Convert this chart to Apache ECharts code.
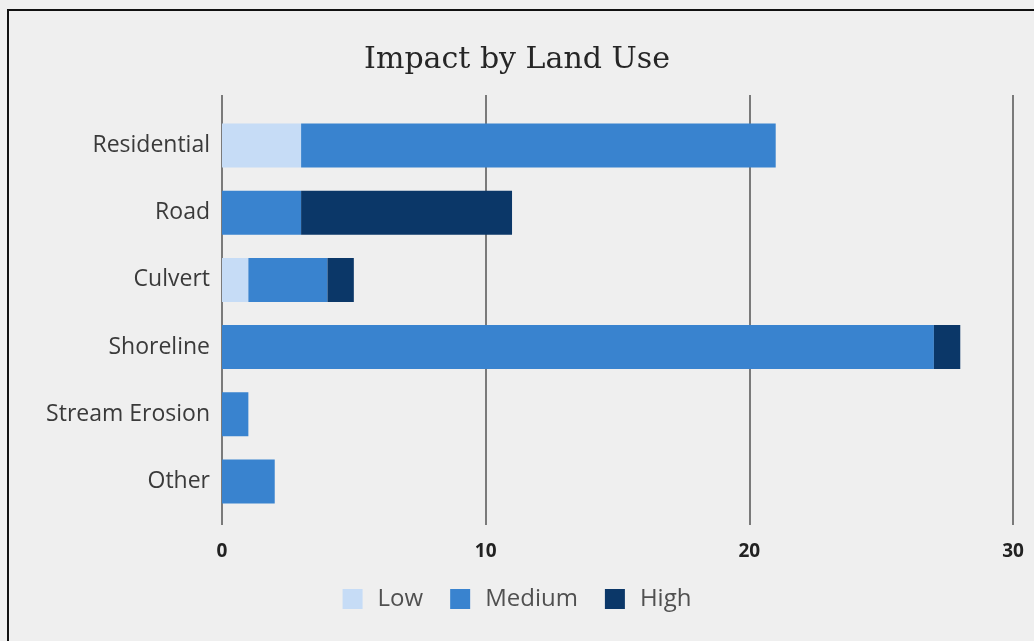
<!DOCTYPE html>
<html style="height: 100%">

<head>
    <meta charset="utf-8">
    <script src="https://cdn.jsdelivr.net/npm/echarts@6/dist/echarts.min.js"></script>
</head>

<body style="height: 100%; margin: 0; background-color: #efefef; overflow: hidden">
    <div id="frame" style="position: absolute; left: 7px; top: 9px; width: 1100px; height: 700px; border: 2px solid #111;"></div>
    <div id="container" style="position: absolute; left: 0; top: 0; width: 1034px; height: 641px"></div>
    <script type="text/javascript">
        // data
        var categories = ['Residential', 'Road', 'Culvert', 'Shoreline', 'Stream Erosion', 'Other'];
        var lowValues = [3, 0, 1, 0, 0, 0];
        var mediumValues = [18, 3, 3, 27, 1, 2];
        var highValues = [0, 8, 1, 1, 0, 0];
        var xTicks = [0, 10, 20, 30];

        var dom = document.getElementById("container");
        var myChart = echarts.init(dom);

        var labelFont = '"Open Sans", sans-serif';

        var option = {
            backgroundColor: 'transparent',
            title: {
                text: 'Impact by Land Use',
                left: 'center',
                top: 40,
                textStyle: {
                    fontFamily: '"DejaVu Serif", serif',
                    fontSize: 30,
                    fontWeight: 'normal',
                    color: '#262626'
                }
            },
            color: ['#c6dcf6', '#3983cf', '#0b3768'],
            legend: {
                bottom: 25,
                left: 'center',
                itemWidth: 20,
                itemHeight: 20,
                itemGap: 27,
                icon: 'rect',
                textStyle: {
                    fontFamily: labelFont,
                    fontSize: 24,
                    color: '#505050',
                    padding: [0, 0, 0, 10]
                },
                data: ['Low', 'Medium', 'High']
            },
            grid: [
                // grid lines only
                { left: 222, right: 21, top: 95, bottom: 116 },
                // bars
                { left: 222, right: 21, top: 112, bottom: 126 }
            ],
            xAxis: [{
                gridIndex: 0,
                type: 'value',
                min: xTicks[0],
                max: xTicks[xTicks.length - 1],
                interval: 10,
                axisLine: { show: false },
                axisTick: { show: false },
                axisLabel: {
                    margin: 17,
                    fontFamily: labelFont,
                    fontSize: 19,
                    fontWeight: 'bold',
                    color: '#222'
                },
                splitLine: {
                    show: true,
                    lineStyle: { color: '#7a7a7a', width: 2 }
                }
            }, {
                gridIndex: 1,
                type: 'value',
                min: xTicks[0],
                max: xTicks[xTicks.length - 1],
                interval: 10,
                show: false
            }],
            yAxis: [{
                gridIndex: 0,
                type: 'value',
                show: false
            }, {
                gridIndex: 1,
                type: 'category',
                inverse: true,
                data: categories,
                axisLine: { show: false },
                axisTick: { show: false },
                axisLabel: {
                    margin: 12,
                    fontFamily: labelFont,
                    fontSize: 23,
                    color: '#3a3a3a'
                }
            }],
            series: [{
                name: 'Low',
                type: 'bar',
                stack: 'total',
                xAxisIndex: 1,
                yAxisIndex: 1,
                barWidth: 44,
                data: lowValues
            }, {
                name: 'Medium',
                type: 'bar',
                stack: 'total',
                xAxisIndex: 1,
                yAxisIndex: 1,
                barWidth: 44,
                data: mediumValues
            }, {
                name: 'High',
                type: 'bar',
                stack: 'total',
                xAxisIndex: 1,
                yAxisIndex: 1,
                barWidth: 44,
                data: highValues
            }]
        };
        myChart.setOption(option);
    </script>
</body>

</html>
